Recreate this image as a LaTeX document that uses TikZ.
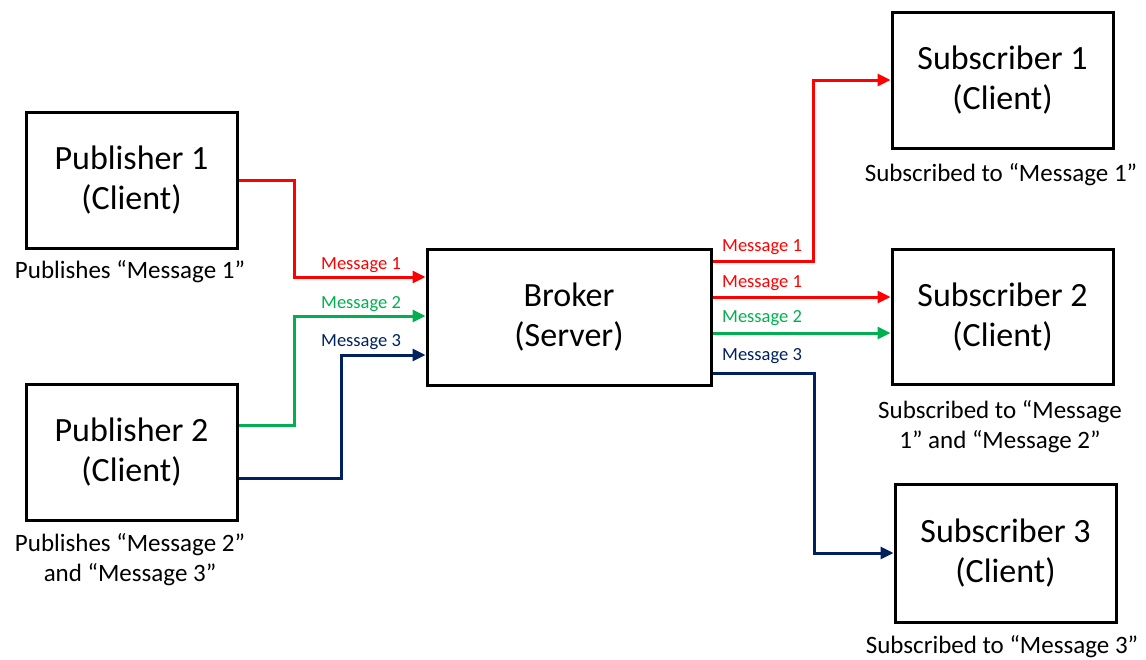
\documentclass[tikz,border=0pt]{standalone}
\usepackage{fontspec}
\setmainfont{Carlito}
\usetikzlibrary{arrows.meta,calc}
\definecolor{msgred}{RGB}{255,0,0}
\definecolor{msggreen}{RGB}{0,176,80}
\definecolor{msgblue}{RGB}{0,32,96}
\tikzset{
  box/.style={draw=black,line width=3pt,minimum height=136pt,align=center,
    font=\fontsize{34}{40}\selectfont,inner sep=0pt},
  caption/.style={align=center,font=\fontsize{25}{30}\selectfont,inner sep=0pt},
  msg/.style={anchor=west,font=\fontsize{18.5}{20}\selectfont,inner sep=0pt},
  flow/.style={line width=3pt,-{Triangle[length=13pt,width=12pt]}},
}
\begin{document}
\begin{tikzpicture}[x=1pt,y=-1pt]
\useasboundingbox (0,0) rectangle (1146,659);
% boxes
\node[box,minimum width=211pt] (p1) at (131.5,180) {Publisher 1\\(Client)};
\node[box,minimum width=211pt] (p2) at (131.5,452) {Publisher 2\\(Client)};
\node[box,minimum width=284pt] (br) at (569,317) {Broker\\(Server)};
\node[box,minimum width=221pt] (s1) at (1002.5,80) {Subscriber 1\\(Client)};
\node[box,minimum width=221pt,minimum height=135pt] (s2) at (1002.5,317) {Subscriber 2\\(Client)};
\node[box,minimum width=221pt,minimum height=138pt] (s3) at (1005.5,553) {Subscriber 3\\(Client)};
% captions
\node[caption] (c1) at (130,272) {Publishes “Message 1”};
\node[caption] (c2) at (130,560) {Publishes “Message 2”\\and “Message 3”};
\node[caption] (c3) at (1001,175) {Subscribed to “Message 1”};
\node[caption] (c4) at (1000,427) {Subscribed to “Message\\1” and “Message 2”};
\node[caption] (c5) at (1002,647) {Subscribed to “Message 3”};
% publisher side
\draw[flow,msgred] (p1.east) -- ++(56,0) |- ([yshift=40pt]br.west);
\draw[flow,msggreen] ([yshift=27pt]p2.east) -- ++(56,0) |- ([yshift=1pt]br.west);
\draw[flow,msgblue] ([yshift=-26pt]p2.east) -- ++(103,0) |- ([yshift=-38pt]br.west);
\node[msg,text=msgred] (m1) at (321,265) {Message 1};
\node[msg,text=msggreen] (m2) at (321,304) {Message 2};
\node[msg,text=msgblue] (m3) at (321,342) {Message 3};
% subscriber side
\draw[flow,msgred] ([yshift=56pt]br.east) -- ++(101,0) |- (s1.west);
\draw[flow,msgred] ([yshift=20pt]br.east) -- ([yshift=20pt]br.east -| s2.west);
\draw[flow,msggreen] ([yshift=-16pt]br.east) -- ([yshift=-16pt]br.east -| s2.west);
\draw[flow,msgblue] ([yshift=-56pt]br.east) -- ++(102,0) |- (s3.west);
\node[msg,text=msgred] (n1) at (722,247) {Message 1};
\node[msg,text=msgred] (n2) at (722,283) {Message 1};
\node[msg,text=msggreen] (n3) at (722,318) {Message 2};
\node[msg,text=msgblue] (n4) at (722,356) {Message 3};
\end{tikzpicture}
\end{document}
